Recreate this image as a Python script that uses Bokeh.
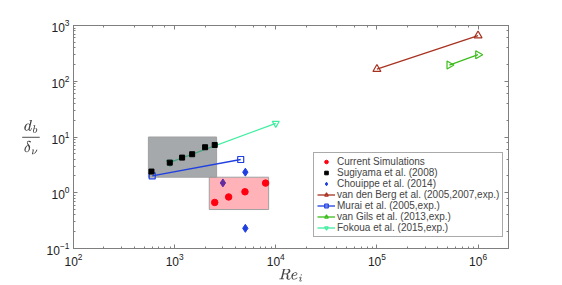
from bokeh.plotting import figure
from bokeh.models import LogAxis, Range1d, Legend, LegendItem, CustomJSTickFormatter
from bokeh.embed import file_html
from bokeh.resources import INLINE

# --- data ---
sim_re = [2490, 3420, 4960, 7930]
sim_d = [0.67, 0.84, 1.04, 1.49]

sugi_re = [590, 895, 1185, 1490, 2000, 2490]
sugi_d = [2.4, 3.47, 4.27, 4.91, 6.55, 7.2]

chou_re = [3000, 5000, 5000]
chou_d = [1.5, 2.34, 0.23]

berg_re = [1e5, 1e6]
berg_d = [165, 660]

murai_re = [600, 4500]
murai_d = [2.0, 3.95]

gils_re = [5.2e5, 1.0e6]
gils_d = [195, 300]

fok_re = [900, 10000]
fok_d = [3.5, 17.6]

gray_box = dict(left=550, right=2600, bottom=1.9, top=10)
pink_box = dict(left=2200, right=8500, bottom=0.5, top=1.9)

legend_labels = ["Current Simulations", "Sugiyama et al. (2008)", "Chouippe et al. (2014)",
                 "van den Berg et al. (2005,2007,exp.)", "Murai et al. (2005,exp.)",
                 "van Gils et al. (2013,exp.)", "Fokoua et al. (2015,exp.)"]

FONT = "Liberation Sans"
AX = "#7f7f7f"

p = figure(width=562, height=285, x_axis_type="log", y_axis_type="log",
           x_range=Range1d(1e2, 2e6), y_range=Range1d(1e-1, 1e3),
           output_backend="svg", toolbar_location=None,
           min_border_left=73, min_border_right=54, min_border_top=25, min_border_bottom=36)
p.grid.visible = False
p.outline_line_color = AX
p.background_fill_color = "white"
p.border_fill_color = "white"

xax = p.below[0]
yax = p.left[0]

# extra box axes
top_ax = LogAxis(formatter=CustomJSTickFormatter(code="return ''"))
right_ax = LogAxis(formatter=CustomJSTickFormatter(code="return ''"))
p.add_layout(top_ax, "above")
p.add_layout(right_ax, "right")
for ax in [top_ax, right_ax]:
    ax.major_label_standoff = 0

for ax in [xax, yax, top_ax, right_ax]:
    ax.axis_line_color = AX
    ax.major_tick_line_color = AX
    ax.minor_tick_line_color = AX
    ax.major_tick_in = 4
    ax.major_tick_out = 0
    ax.minor_tick_in = 2
    ax.minor_tick_out = 0
    ax.major_label_text_font = FONT
    ax.major_label_text_color = "#222222"

xax.major_label_text_font_size = "12px"
yax.major_label_text_font_size = "12px"
xax.major_label_standoff = 4
yax.major_label_standoff = 4

xax.axis_label = r"$$Re_i$$"
xax.axis_label_standoff = 0
xax.axis_label_text_font_size = "12px"
yax.axis_label = r"$$\frac{d_b}{\delta_\nu}$$"
yax.axis_label_orientation = "horizontal"
yax.axis_label_standoff = 2
yax.axis_label_text_font_size = "13px"

# Fokoua line (under gray box)
fok = p.line(fok_re, fok_d, line_color="#40eea0", line_width=1.3)
fok_m = p.scatter(fok_re, fok_d, marker="inverted_triangle", size=7, line_color="#40eea0",
                  fill_color=None, line_width=1.2)

# gray box
p.quad(**gray_box, fill_color="#4d5359", fill_alpha=0.5, line_color="#a0a0a0", line_width=1)

# Murai
mur = p.line(murai_re, murai_d, line_color="#1f3fe0", line_width=1.3)
mur_m = p.scatter(murai_re, murai_d, marker="square", size=6, line_color="#1f3fe0",
                  fill_color=None, line_width=1.2)

# Sugiyama
sug = p.scatter(sugi_re, sugi_d, marker="square", size=5, color="black")

# Chouippe
cho = p.scatter(chou_re, chou_d, marker="diamond", size=8, color="#1f3fe0")

# pink box
p.quad(**pink_box, fill_color="#ff0010", fill_alpha=0.3, line_color="#a0a0a0", line_width=1)

# simulations
sim = p.scatter(sim_re, sim_d, marker="circle", size=6.5, color="#ff0010")

# van den Berg
berg = p.line(berg_re, berg_d, line_color="#a83220", line_width=1.3)
berg_m = p.scatter(berg_re, berg_d, marker="triangle", size=8, line_color="#a83220",
                   fill_color=None, line_width=1.2)

# van Gils
gils = p.line(gils_re, gils_d, line_color="#3cbd1c", line_width=1.3)
gils_m = p.scatter(gils_re, gils_d, marker="triangle", angle=-1.5708, size=8,
                   line_color="#3cbd1c", fill_color=None, line_width=1.2)

legend = Legend(items=[
    LegendItem(label=legend_labels[0], renderers=[sim]),
    LegendItem(label=legend_labels[1], renderers=[sug]),
    LegendItem(label=legend_labels[2], renderers=[cho]),
    LegendItem(label=legend_labels[3], renderers=[berg, berg_m]),
    LegendItem(label=legend_labels[4], renderers=[mur, mur_m]),
    LegendItem(label=legend_labels[5], renderers=[gils, gils_m]),
    LegendItem(label=legend_labels[6], renderers=[fok, fok_m]),
], location=(240, 11))
legend.label_text_font = FONT
legend.label_text_font_size = "10px"
legend.label_height = 9
legend.glyph_height = 9
legend.glyph_width = 18
legend.spacing = 0
legend.padding = 3
legend.margin = 0
legend.label_standoff = 2
legend.border_line_color = "#555555"
legend.background_fill_alpha = 1
p.add_layout(legend, "center")

open("out.html", "w").write(file_html(p, INLINE))
